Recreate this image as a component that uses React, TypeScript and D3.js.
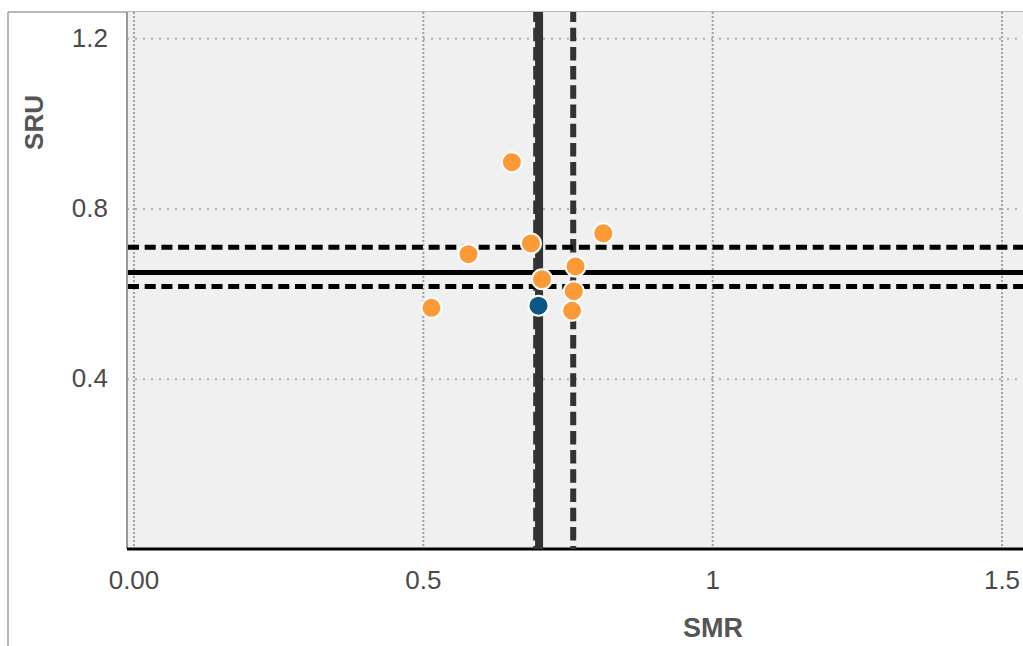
import * as d3 from 'd3';

// hospital points: SMR vs SRU
const smr = [0.653, 0.578, 0.686, 0.811, 0.763, 0.705, 0.760, 0.757, 0.699, 0.514];
const sru = [0.910, 0.694, 0.719, 0.743, 0.665, 0.635, 0.607, 0.561, 0.573, 0.568];
const group = ['other', 'other', 'other', 'other', 'other', 'other', 'other', 'other', 'focus', 'other'];

// reference lines (mean + interval)
const smrMean = 0.700;
const smrLow = 0.695;
const smrHigh = 0.759;
const sruMean = 0.651;
const sruHigh = 0.710;
const sruLow = 0.618;

const xTicks = [0, 0.5, 1, 1.5];
const xTickLabels = ['0.00', '0.5', '1', '1.5'];
const yTicks = [0.4, 0.8, 1.2];
const yTickLabels = ['0.4', '0.8', '1.2'];

const W = 1023;
const H = 646;
const left = 127;
const top = 12;
const bottom = 549;
const right = 1023;

const App = () => {
  const x = d3.scaleLinear().domain([0, 1.5]).range([134, 1002]);
  const y = d3.scaleLinear().domain([0, 1.2]).range([549.6, 38.7]);

  const colors: Record<string, string> = { other: '#fb9a36', focus: '#0b5682' };
  const points = smr.map((v, i) => ({ x: v, y: sru[i], g: group[i] }));
  const ordered = [...points.filter(p => p.g === 'focus'), ...points.filter(p => p.g !== 'focus')];

  const tickFont = '"Liberation Sans", Arial, sans-serif';

  return (
    <svg width={W} height={H} style={{ position: 'absolute', left: 0, top: 0, display: 'block' }}>
      {/* outer frame */}
      <line x1={8} x2={W} y1={top} y2={top} stroke="#a0a0a0" strokeWidth={1.5} />
      <line x1={8} x2={8} y1={top} y2={H} stroke="#a0a0a0" strokeWidth={1.5} />

      {/* plot background */}
      <rect x={left} y={top} width={right - left} height={bottom - top} fill="#f0f0f0" />

      {/* gridlines */}
      {xTicks.map(t => (
        <line key={'gx' + t} x1={x(t)} x2={x(t)} y1={top} y2={bottom} stroke="#a0a0a0" strokeWidth={2} strokeDasharray="2,2" />
      ))}
      {yTicks.map(t => (
        <line key={'gy' + t} x1={left} x2={right} y1={y(t)} y2={y(t)} stroke="#b0b0b0" strokeWidth={2} strokeDasharray="2,6" />
      ))}

      {/* axis lines */}
      <line x1={left} x2={left} y1={top} y2={bottom} stroke="#999" strokeWidth={2} />
      <line x1={left} x2={right} y1={bottom} y2={bottom} stroke="#000" strokeWidth={3} />

      {/* reference lines */}
      <line x1={x(smrMean)} x2={x(smrMean)} y1={top} y2={bottom} stroke="#333" strokeWidth={8} />
      <line x1={x(smrLow)} x2={x(smrLow)} y1={top} y2={bottom} stroke="#333" strokeWidth={6} strokeDasharray="13.5,5.7" strokeDashoffset={3.5} />
      <line x1={x(smrHigh)} x2={x(smrHigh)} y1={top} y2={bottom} stroke="#333" strokeWidth={6} strokeDasharray="13.5,5.7" strokeDashoffset={3.5} />
      <line x1={left + 1} x2={right} y1={y(sruMean)} y2={y(sruMean)} stroke="#000" strokeWidth={5} />
      <line x1={left + 1} x2={right} y1={y(sruHigh)} y2={y(sruHigh)} stroke="#000" strokeWidth={5} strokeDasharray="11,5.7" />
      <line x1={left + 1} x2={right} y1={y(sruLow)} y2={y(sruLow)} stroke="#000" strokeWidth={5} strokeDasharray="11,5.7" />

      {/* points */}
      {ordered.map((p, i) => (
        <circle key={i} cx={x(p.x)} cy={y(p.y)} r={10} fill={colors[p.g]} stroke="#fff" strokeWidth={2} />
      ))}

      {/* tick labels */}
      {xTicks.map((t, i) => (
        <text key={'tx' + t} x={x(t)} y={589} textAnchor="middle" fontFamily={tickFont} fontSize={26} fill="#4a4a4a">
          {xTickLabels[i]}
        </text>
      ))}
      {yTicks.map((t, i) => (
        <text key={'ty' + t} x={108} y={y(t) + 8} textAnchor="end" fontFamily={tickFont} fontSize={26} fill="#4a4a4a">
          {yTickLabels[i]}
        </text>
      ))}

      {/* axis titles */}
      <text x={713} y={636.5} textAnchor="middle" fontFamily={tickFont} fontWeight="bold" fontSize={27} fill="#555">
        SMR
      </text>
      <text transform="translate(43,122.5) rotate(-90)" textAnchor="middle" fontFamily={tickFont} fontWeight="bold" fontSize={26} fill="#555">
        SRU
      </text>
    </svg>
  );
};

export default App;
